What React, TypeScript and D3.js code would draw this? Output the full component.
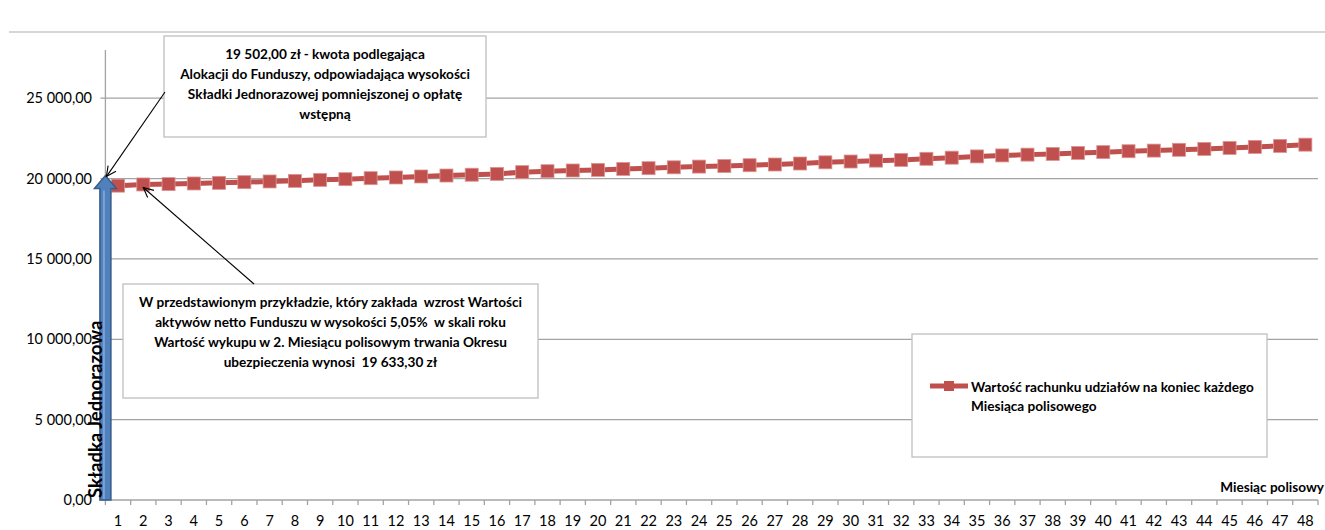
import React from "react";
import * as d3 from "d3";

const months: number[] = Array.from({ length: 48 }, (_, i) => i + 1);
const accountValues: number[] = [
  19560, 19633, 19655, 19695, 19733, 19776, 19820, 19857, 19919, 19963,
  20025, 20068, 20130, 20190, 20240, 20292, 20400, 20459, 20503, 20540,
  20602, 20646, 20700, 20745, 20780, 20832, 20875, 20937, 21010, 21061,
  21115, 21161, 21230, 21300, 21379, 21440, 21490, 21534, 21596, 21645,
  21701, 21740, 21790, 21845, 21907, 21969, 22031, 22110,
];
const yTicks: number[] = [0, 5000, 10000, 15000, 20000, 25000];
const singlePremium = 19502;

const seriesName1 = "Wartość rachunku udziałów na koniec każdego";
const seriesName2 = "Miesiąca polisowego";
const xTitle = "Miesiąc polisowy";
const arrowTitle = "Składka Jednorazowa";
const note1: string[] = [
  "19 502,00 zł - kwota podlegająca",
  "Alokacji do Funduszy, odpowiadająca wysokości",
  "Składki Jednorazowej pomniejszonej o opłatę",
  "wstępną",
];
const note2: string[] = [
  "W przedstawionym przykładzie, który zakłada  wzrost Wartości",
  "aktywów netto Funduszu w wysokości 5,05%  w skali roku",
  "Wartość wykupu w 2. Miesiącu polisowym trwania Okresu",
  "ubezpieczenia wynosi  19 633,30 zł",
];

const W = 1325;
const H = 530;
const plotLeft = 105.4;
const plotRight = 1318;
const plotBottom = 500;
const plotTop = 50;

const RED = "#C0504D";
const GRID = "#A3A3A3";
const FONT = "Lato, 'Open Sans', sans-serif";

function fmt(v: number): string {
  const s = d3.format(",.2f")(v);
  return s.replace(/,/g, " ").replace(/\.(\d\d)$/, ",$1");
}

function arrowHead(x1: number, y1: number, x2: number, y2: number, len = 11, ang = 0.45) {
  const a = Math.atan2(y1 - y2, x1 - x2);
  const p1 = [x2 + len * Math.cos(a + ang), y2 + len * Math.sin(a + ang)];
  const p2 = [x2 + len * Math.cos(a - ang), y2 + len * Math.sin(a - ang)];
  return `M${p1[0]},${p1[1]}L${x2},${y2}L${p2[0]},${p2[1]}`;
}

export default function App() {
  const x = d3
    .scaleBand<number>()
    .domain(months)
    .range([plotLeft, plotRight])
    .paddingInner(0)
    .paddingOuter(0);
  const y = d3.scaleLinear().domain([0, 28000]).range([plotBottom, plotTop]);
  const cx = (m: number) => (x(m) as number) + x.bandwidth() / 2;

  const line = d3
    .line<number>()
    .x((_, i) => cx(months[i]))
    .y((d) => y(d));

  const axisX = plotLeft;
  const tipY = y(singlePremium) - 11;
  const shaftL = axisX - 5.5;
  const shaftR = axisX + 5.5;
  const headL = axisX - 11;
  const headR = axisX + 11;
  const headBase = tipY + 13;
  const blueArrow = `M${shaftL},${plotBottom}L${shaftL},${headBase}L${headL},${headBase}L${axisX},${tipY}L${headR},${headBase}L${shaftR},${headBase}L${shaftR},${plotBottom}Z`;

  const a1 = { x1: 165, y1: 92, x2: axisX + 1, y2: tipY + 1 };
  const a2 = { x1: 254, y1: 284, x2: cx(2), y2: y(accountValues[1]) + 3 };

  const box1 = { x: 164, y: 36, w: 322, h: 101 };
  const box2 = { x: 123, y: 284, w: 415, h: 114 };
  const legendBox = { x: 912, y: 334, w: 355, h: 123 };

  return (
    <svg width={W} height={H} style={{ display: "block", position: "absolute", left: 0, top: 0 }}>
      <rect x={0} y={0} width={W} height={H} fill="#fff" />
      <line x1={9} x2={W} y1={32} y2={32} stroke="#C8C8C8" strokeWidth={1.5} />

      {yTicks.map((t) => (
        <g key={t}>
          <line x1={axisX - 5} x2={plotRight} y1={y(t)} y2={y(t)} stroke={GRID} strokeWidth={1.3} />
          <text x={92} y={y(t) + 5} textAnchor="end" fontFamily={FONT} fontSize={14.5} fill="#000">
            {fmt(t)}
          </text>
        </g>
      ))}
      <line x1={axisX} x2={axisX} y1={plotTop} y2={plotBottom} stroke={GRID} strokeWidth={1.3} />

      {months.map((m) => (
        <line
          key={"t" + m}
          x1={(x(m) as number) + x.bandwidth()}
          x2={(x(m) as number) + x.bandwidth()}
          y1={plotBottom}
          y2={plotBottom + 5}
          stroke={GRID}
          strokeWidth={1.3}
        />
      ))}
      <line x1={axisX} x2={axisX} y1={plotBottom} y2={plotBottom + 5} stroke={GRID} strokeWidth={1.3} />
      {months.map((m) => (
        <text key={"l" + m} x={cx(m)} y={526} textAnchor="middle" fontFamily={FONT} fontSize={14.5} fill="#000">
          {m}
        </text>
      ))}

      <path d={line(accountValues) || ""} fill="none" stroke={RED} strokeWidth={5} />
      {accountValues.map((v, i) => (
        <rect
          key={"m" + i}
          x={cx(months[i]) - 6.5}
          y={y(v) - 6.5}
          width={13}
          height={13}
          fill={RED}
          stroke="#D99694"
          strokeWidth={0.8}
        />
      ))}

      <path d={blueArrow} fill="#4F81BD" stroke="#385D8A" strokeWidth={1.5} />
      <line x1={axisX - 1.5} x2={axisX - 1.5} y1={headBase + 2} y2={plotBottom - 1} stroke="#7FA3D1" strokeWidth={2} />

      <text
        transform={`translate(102,${plotBottom - 2}) rotate(-90)`}
        fontFamily={FONT}
        fontWeight="bold"
        fontSize={18.5}
        fill="#000"
      >
        {arrowTitle}
      </text>

      <rect x={box1.x} y={box1.y} width={box1.w} height={box1.h} fill="#fff" stroke="#BFBFBF" strokeWidth={1.3} />
      {note1.map((s, i) => (
        <text
          key={"n1" + i}
          x={box1.x + box1.w / 2}
          y={59 + i * 20}
          textAnchor="middle"
          fontFamily={FONT}
          fontWeight="bold"
          fontSize={13.6}
          style={{ whiteSpace: "pre" }}
        >
          {s}
        </text>
      ))}
      <rect x={box2.x} y={box2.y} width={box2.w} height={box2.h} fill="#fff" stroke="#BFBFBF" strokeWidth={1.3} />
      {note2.map((s, i) => (
        <text
          key={"n2" + i}
          x={box2.x + box2.w / 2}
          y={307 + i * 20}
          textAnchor="middle"
          fontFamily={FONT}
          fontWeight="bold"
          fontSize={13.6}
          style={{ whiteSpace: "pre" }}
        >
          {s}
        </text>
      ))}

      <line x1={a1.x1} y1={a1.y1} x2={a1.x2} y2={a1.y2} stroke="#000" strokeWidth={1.1} />
      <path d={arrowHead(a1.x1, a1.y1, a1.x2, a1.y2)} fill="none" stroke="#000" strokeWidth={1.1} />
      <line x1={a2.x1} y1={a2.y1} x2={a2.x2} y2={a2.y2} stroke="#000" strokeWidth={1.1} />
      <path d={arrowHead(a2.x1, a2.y1, a2.x2, a2.y2)} fill="none" stroke="#000" strokeWidth={1.1} />

      <rect x={legendBox.x} y={legendBox.y} width={legendBox.w} height={legendBox.h} fill="#fff" stroke="#BFBFBF" strokeWidth={1.3} />
      <line x1={930} x2={968} y1={386} y2={386} stroke={RED} strokeWidth={5} />
      <rect x={949 - 5} y={386 - 5} width={10} height={10} fill={RED} />
      <text x={971} y={392} fontFamily={FONT} fontWeight="bold" fontSize={13.6}>
        {seriesName1}
      </text>
      <text x={971} y={411} fontFamily={FONT} fontWeight="bold" fontSize={13.6}>
        {seriesName2}
      </text>

      <text x={1324} y={492} textAnchor="end" fontFamily={FONT} fontWeight="bold" fontSize={13.6}>
        {xTitle}
      </text>
    </svg>
  );
}
